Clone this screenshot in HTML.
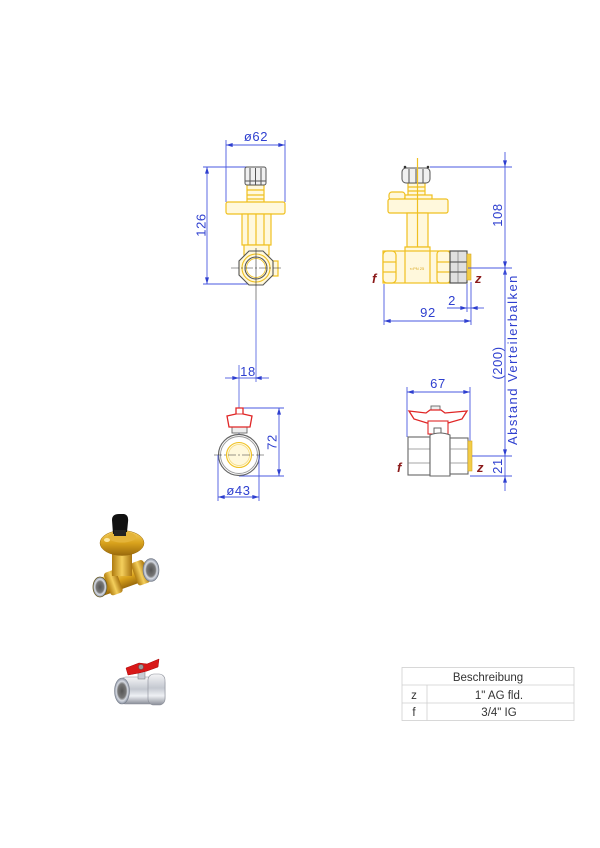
<!DOCTYPE html>
<html><head><meta charset="utf-8"><style>
html,body{margin:0;padding:0;background:#fff;}
svg{display:block;}
.d{stroke:#4a5ae0;stroke-width:0.9;fill:none;}
.t{font-family:"Liberation Sans",sans-serif;font-size:13px;fill:#2e3fcf;letter-spacing:0.6px;}
.y{stroke:#efc020;stroke-width:1.2;fill:#fff8dc;}
.g{stroke:#555;stroke-width:1;fill:#f0f0f0;}
.c{stroke:#333;stroke-width:0.6;fill:none;stroke-dasharray:8 2 2 2;}
.fz{font-family:"Liberation Sans",sans-serif;font-size:13px;font-weight:bold;font-style:italic;fill:#8b1a1a;}
.tb{font-family:"Liberation Sans",sans-serif;font-size:11.5px;fill:#333;}
</style></head><body>
<svg width="600" height="848" viewBox="0 0 600 848" xmlns="http://www.w3.org/2000/svg">
<defs>
<marker id="a" viewBox="0 0 10 6" refX="10" refY="3" markerWidth="8" markerHeight="4" markerUnits="userSpaceOnUse" orient="auto-start-reverse">
<path d="M0 0 L10 3 L0 6 Z" fill="#2e3fcf"/></marker>
<linearGradient id="gold" x1="0" y1="0" x2="0" y2="1"><stop offset="0" stop-color="#f6d264"/><stop offset="0.5" stop-color="#d9a21c"/><stop offset="1" stop-color="#9a6a0c"/></linearGradient>
<linearGradient id="gold2" x1="0" y1="0" x2="1" y2="0"><stop offset="0" stop-color="#b07c10"/><stop offset="0.5" stop-color="#f4cf5c"/><stop offset="1" stop-color="#a87410"/></linearGradient>
<linearGradient id="silver" x1="0" y1="0" x2="0" y2="1"><stop offset="0" stop-color="#f4f4f6"/><stop offset="0.45" stop-color="#c4c8d0"/><stop offset="0.7" stop-color="#eef0f4"/><stop offset="1" stop-color="#8a8e98"/></linearGradient>
<radialGradient id="chrome" cx="0.5" cy="0.5" r="0.5"><stop offset="0" stop-color="#555"/><stop offset="0.55" stop-color="#777"/><stop offset="0.75" stop-color="#d8dce4"/><stop offset="1" stop-color="#8890a0"/></radialGradient>
</defs>

<!-- ===== TOP-LEFT VIEW ===== -->
<line class="d" x1="226" y1="140" x2="226" y2="202"/>
<line class="d" x1="285" y1="140" x2="285" y2="202"/>
<line class="d" x1="226" y1="145" x2="285" y2="145" marker-start="url(#a)" marker-end="url(#a)"/>
<text class="t" x="256" y="141" text-anchor="middle">ø62</text>
<line class="d" x1="203" y1="167" x2="252" y2="167"/>
<line class="d" x1="203" y1="284" x2="256" y2="284"/>
<line class="d" x1="207" y1="167" x2="207" y2="284" marker-start="url(#a)" marker-end="url(#a)"/>
<text class="t" x="0" y="0" text-anchor="middle" transform="translate(205.5 225) rotate(-90)">126</text>
<rect class="y" x="247" y="185" width="17" height="18"/>
<line class="y" x1="247" y1="190" x2="264" y2="190"/>
<line class="y" x1="247" y1="195" x2="264" y2="195"/>
<line class="y" x1="247" y1="199" x2="264" y2="199"/>
<rect class="g" x="245" y="167" width="21" height="18" rx="2"/>
<line class="g" x1="250" y1="168" x2="250" y2="185"/>
<line class="g" x1="255.5" y1="168" x2="255.5" y2="185"/>
<line class="g" x1="261" y1="168" x2="261" y2="185"/>
<line class="g" x1="245" y1="181" x2="266" y2="181"/>
<rect class="y" x="226" y="202" width="59" height="12" rx="2"/>
<rect class="y" x="242" y="214" width="29" height="31"/>
<line class="y" x1="248" y1="214" x2="248" y2="245"/>
<line class="y" x1="256" y1="214" x2="256" y2="245"/>
<line class="y" x1="264" y1="214" x2="264" y2="245"/>
<rect class="y" x="244" y="245" width="25" height="10"/>
<rect class="y" x="272" y="261" width="6" height="15"/>
<polygon points="249,251 263,251 273,261 273,275 263,285 249,285 239,275 239,261" fill="#fff8dc" stroke="#555" stroke-width="1.1"/>
<circle cx="256" cy="268" r="14" fill="none" stroke="#efc020" stroke-width="1.1"/>
<circle cx="256" cy="268" r="11" fill="#fff" stroke="#555" stroke-width="1.1"/>
<circle cx="256" cy="268" r="9.5" fill="none" stroke="#efc020" stroke-width="0.8"/>
<line class="c" x1="231" y1="268" x2="283" y2="268"/>
<line x1="256" y1="248" x2="256" y2="300" stroke="#333" stroke-width="0.6"/>
<line x1="256" y1="300" x2="256" y2="382" stroke="#4a5ae0" stroke-width="0.8"/>

<!-- ===== BOTTOM-LEFT BALL VALVE FRONT ===== -->
<line class="d" x1="225" y1="378" x2="239" y2="378" marker-end="url(#a)"/>
<line class="d" x1="239" y1="378" x2="255" y2="378"/>
<line class="d" x1="269" y1="378" x2="255" y2="378" marker-end="url(#a)"/>
<text class="t" x="248" y="376" text-anchor="middle">18</text>
<line x1="239" y1="365" x2="239" y2="475" stroke="#4a5ae0" stroke-width="0.8"/>
<line class="d" x1="243" y1="408" x2="284" y2="408"/>
<line class="d" x1="239" y1="476" x2="284" y2="476"/>
<line class="d" x1="279" y1="408" x2="279" y2="476" marker-start="url(#a)" marker-end="url(#a)"/>
<text class="t" x="0" y="0" text-anchor="middle" transform="translate(276.5 442) rotate(-90)">72</text>
<rect x="232" y="426" width="15" height="7" fill="#eee" stroke="#666" stroke-width="0.9"/>
<path d="M236 408 L243 408 L243 414 L252 416 L250 427 L229 427 L227 416 L236 414 Z" fill="#fff" stroke="#e02626" stroke-width="1.3"/>
<line x1="236" y1="414" x2="243" y2="414" stroke="#e02626" stroke-width="0.9"/>
<circle cx="239" cy="455" r="20.5" fill="#fff" stroke="#666" stroke-width="1.2"/>
<circle cx="239" cy="455" r="18.5" fill="none" stroke="#999" stroke-width="0.9"/>
<circle cx="239" cy="455" r="12.5" fill="#fff8dc" stroke="#efc020" stroke-width="1.1"/>
<circle cx="239" cy="455" r="10.5" fill="none" stroke="#f3d878" stroke-width="0.7"/>
<line class="c" x1="214" y1="455" x2="265" y2="455"/>
<line class="d" x1="218" y1="455" x2="218" y2="501"/>
<line class="d" x1="259" y1="455" x2="259" y2="501"/>
<line class="d" x1="218" y1="497" x2="259" y2="497" marker-start="url(#a)" marker-end="url(#a)"/>
<text class="t" x="238.5" y="495" text-anchor="middle">ø43</text>

<!-- ===== TOP-RIGHT VIEW ===== -->
<rect class="y" x="408" y="183" width="17" height="12"/>
<line class="y" x1="408" y1="187" x2="425" y2="187"/>
<line class="y" x1="408" y1="191" x2="425" y2="191"/>
<rect class="g" x="402" y="168" width="28" height="15" rx="4"/>
<line class="g" x1="409" y1="169" x2="409" y2="183"/>
<line class="g" x1="416" y1="169" x2="416" y2="183"/>
<line class="g" x1="423" y1="169" x2="423" y2="183"/>
<circle cx="405" cy="167" r="1.3" fill="#333"/>
<circle cx="428" cy="167" r="1.3" fill="#333"/>
<rect class="y" x="389" y="192" width="16" height="8" rx="3"/>
<rect class="y" x="405" y="195" width="27" height="5"/>
<rect class="y" x="388" y="199" width="60" height="14" rx="2"/>
<rect class="y" x="407" y="213" width="21" height="34"/>
<line class="y" x1="417.5" y1="158" x2="417.5" y2="247"/>
<path class="y" d="M405 247 L430 247 L430 252 Q417.5 262 405 252 Z"/>
<rect class="y" x="383" y="251" width="67" height="32"/>
<rect class="y" x="383" y="251" width="13" height="32" rx="4"/>
<line class="y" x1="383" y1="262" x2="396" y2="262"/>
<line class="y" x1="383" y1="272" x2="396" y2="272"/>
<rect class="y" x="437" y="251" width="13" height="32" rx="3"/>
<line class="y" x1="437" y1="262" x2="450" y2="262"/>
<line class="y" x1="437" y1="272" x2="450" y2="272"/>
<line class="y" x1="405" y1="251" x2="405" y2="283"/>
<line class="y" x1="430" y1="251" x2="430" y2="283"/>
<text x="417" y="270" font-family="Liberation Sans,sans-serif" font-size="4" fill="#d9a820" text-anchor="middle">⇐PN 25</text>
<rect x="450" y="251" width="17" height="32" fill="#e0e0e0" stroke="#444" stroke-width="1.1"/>
<line x1="450" y1="262" x2="467" y2="262" stroke="#444" stroke-width="0.9"/>
<line x1="450" y1="272" x2="467" y2="272" stroke="#444" stroke-width="0.9"/>
<line x1="458" y1="251" x2="458" y2="283" stroke="#666" stroke-width="0.6"/>
<rect x="467" y="254" width="4" height="26" fill="#f2cc48" stroke="#d9a820" stroke-width="0.6"/>
<text class="fz" x="372" y="283">f</text>
<text class="fz" x="475" y="283">z</text>
<line class="d" x1="430" y1="167" x2="512" y2="167"/>
<line class="d" x1="468" y1="268" x2="512" y2="268"/>
<line class="d" x1="505" y1="152" x2="505" y2="167" marker-end="url(#a)"/>
<line class="d" x1="505" y1="167" x2="505" y2="268" marker-end="url(#a)"/>
<line class="d" x1="505" y1="456" x2="505" y2="268" marker-end="url(#a)"/>
<line class="d" x1="505" y1="268" x2="505" y2="456" marker-end="url(#a)"/>
<line class="d" x1="505" y1="456" x2="505" y2="476"/>
<line class="d" x1="505" y1="491" x2="505" y2="476" marker-end="url(#a)"/>
<text class="t" x="0" y="0" text-anchor="middle" transform="translate(502 215) rotate(-90)">108</text>
<text class="t" x="0" y="0" text-anchor="middle" transform="translate(502 363) rotate(-90)">(200)</text>
<text class="t" x="0" y="0" text-anchor="middle" textLength="170" lengthAdjust="spacing" transform="translate(517 360) rotate(-90)">Abstand Verteilerbalken</text>
<line class="d" x1="384" y1="284" x2="384" y2="325"/>
<line class="d" x1="471" y1="282" x2="471" y2="325"/>
<line class="d" x1="467" y1="284" x2="467" y2="312"/>
<line class="d" x1="384" y1="321" x2="471" y2="321" marker-start="url(#a)" marker-end="url(#a)"/>
<text class="t" x="428" y="317" text-anchor="middle">92</text>
<line class="d" x1="447" y1="308" x2="467" y2="308" marker-end="url(#a)"/>
<line class="d" x1="467" y1="308" x2="471" y2="308"/>
<line class="d" x1="484" y1="308" x2="471" y2="308" marker-end="url(#a)"/>
<text class="t" x="452" y="305" text-anchor="middle">2</text>

<!-- ===== BOTTOM-RIGHT BALL VALVE SIDE ===== -->
<line class="d" x1="407" y1="387" x2="407" y2="437"/>
<line class="d" x1="470" y1="387" x2="470" y2="441"/>
<line class="d" x1="407" y1="392" x2="470" y2="392" marker-start="url(#a)" marker-end="url(#a)"/>
<text class="t" x="438" y="388" text-anchor="middle">67</text>
<rect x="431" y="406" width="9" height="5" fill="#eee" stroke="#666" stroke-width="0.9"/>
<path d="M409 411 L426 413 L430 410 L441 410 L445 413 L467 411 L462 419 L448 423 L427 423 L414 419 Z" fill="#fff" stroke="#e02626" stroke-width="1.3"/>
<rect x="428" y="421" width="20" height="13" fill="#fff" stroke="#e02626" stroke-width="1.1"/>
<rect x="434" y="428" width="7" height="7" fill="#fff" stroke="#555" stroke-width="0.9"/>
<rect x="408" y="437" width="22" height="38" fill="#fff" stroke="#666" stroke-width="1.1"/>
<line x1="408" y1="449" x2="430" y2="449" stroke="#888" stroke-width="0.8"/>
<line x1="408" y1="463" x2="430" y2="463" stroke="#888" stroke-width="0.8"/>
<path d="M430 435 Q440 431 450 435 L450 476 L430 476 Z" fill="#fff" stroke="#666" stroke-width="1.1"/>
<rect x="450" y="438" width="18" height="36" fill="#fff" stroke="#666" stroke-width="1.1"/>
<line x1="450" y1="449" x2="468" y2="449" stroke="#888" stroke-width="0.8"/>
<line x1="450" y1="463" x2="468" y2="463" stroke="#888" stroke-width="0.8"/>
<rect x="468" y="441" width="4" height="30" fill="#f2cc48" stroke="#d9a820" stroke-width="0.6"/>
<text class="fz" x="397" y="472">f</text>
<text class="fz" x="477" y="472">z</text>
<line class="d" x1="472" y1="456" x2="512" y2="456"/>
<line class="d" x1="470" y1="476" x2="512" y2="476"/>
<text class="t" x="0" y="0" text-anchor="middle" transform="translate(502 466) rotate(-90)">21</text>

<!-- ===== 3D IMAGE 1 ===== -->
<g transform="rotate(-20 126 578)">
<rect x="98" y="569" width="56" height="18" fill="url(#gold)"/>
<rect x="106" y="566" width="13" height="24" rx="3" fill="url(#gold2)"/>
<rect x="135" y="566" width="13" height="24" rx="3" fill="url(#gold2)"/>
</g>
<ellipse cx="151" cy="570" rx="8" ry="11.5" fill="url(#chrome)" stroke="#6a707c" stroke-width="0.6"/>
<ellipse cx="100" cy="587" rx="7" ry="10" fill="url(#chrome)" stroke="#6a5a20" stroke-width="0.8"/>
<rect x="112" y="548" width="20" height="28" fill="url(#gold2)"/>
<ellipse cx="122" cy="543" rx="22" ry="12.5" fill="url(#gold)" stroke="#9a6a0c" stroke-width="0.5"/>
<ellipse cx="122" cy="537" rx="14" ry="5.5" fill="#e4b43a"/>
<ellipse cx="107" cy="540" rx="3" ry="2" fill="#fbe7a0"/>
<path d="M112 520 Q112 514 119 514 L124 514 Q129 515 128 522 L127 532 L113 534 Z" fill="#111"/>
<rect x="114" y="530" width="12" height="6" fill="#222"/>

<!-- ===== 3D IMAGE 2 ===== -->
<rect x="120" y="677" width="45" height="27" rx="6" fill="url(#silver)" stroke="#8a8e98" stroke-width="0.6"/>
<rect x="148" y="674" width="17" height="31" rx="6" fill="url(#silver)" stroke="#8a8e98" stroke-width="0.6"/>
<ellipse cx="122" cy="691" rx="7.5" ry="13" fill="url(#chrome)" stroke="#7a808c" stroke-width="0.6"/>
<rect x="138" y="669" width="7" height="10" fill="#c8ccd4" stroke="#777" stroke-width="0.5"/>
<path d="M126 668 L139 663 L147 664 L159 659 L158 667 L147 671 L139 673 L128 675 Z" fill="#d81818" stroke="#a00" stroke-width="0.5"/>
<circle cx="141" cy="667" r="2.5" fill="#999" stroke="#555" stroke-width="0.5"/>

<!-- ===== TABLE ===== -->
<g stroke="#cfcfcf" stroke-width="0.8" fill="none">
<rect x="402" y="667.5" width="172" height="53"/>
<line x1="402" y1="685" x2="574" y2="685"/>
<line x1="402" y1="703" x2="574" y2="703"/>
<line x1="427" y1="685" x2="427" y2="720.5"/>
</g>
<text class="tb" x="488" y="681" text-anchor="middle">Beschreibung</text>
<text class="tb" x="414" y="699" text-anchor="middle">z</text>
<text class="tb" x="499" y="699" text-anchor="middle">1" AG fld.</text>
<text class="tb" x="414" y="716" text-anchor="middle">f</text>
<text class="tb" x="499" y="716" text-anchor="middle">3/4" IG</text>
</svg>
</body></html>
